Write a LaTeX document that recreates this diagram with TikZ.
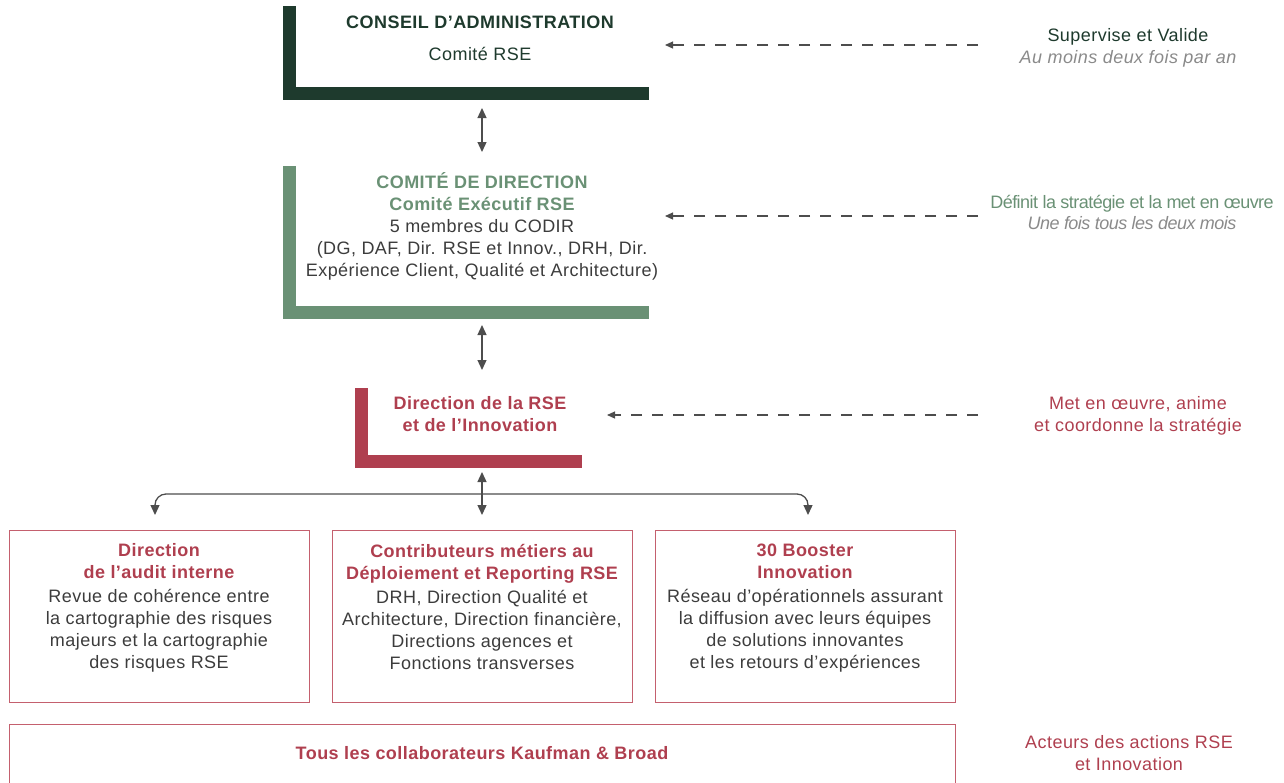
\documentclass[tikz,border=0pt]{standalone}
\usepackage{fontspec}
\setmainfont{Liberation Sans}[LetterSpace=2.5]
\usetikzlibrary{arrows.meta}
\definecolor{cadark}{HTML}{1E3A2D}
\definecolor{cogreen}{HTML}{6A9175}
\definecolor{rsered}{HTML}{AF3F4F}
\definecolor{boxred}{HTML}{C4606E}
\definecolor{txtgray}{HTML}{3C3C3C}
\definecolor{itgray}{HTML}{8A8A8A}
\definecolor{arrgray}{HTML}{4D4D4D}
\newcommand\hdr[1]{\textcolor{rsered}{\bfseries #1}}
\newcommand\tightsp{\addfontfeatures{LetterSpace=-3}}
\begin{document}
\begin{tikzpicture}[x=1pt,y=-1pt,
  txt/.style={font=\fontsize{18}{22}\selectfont, align=center, inner sep=0pt, text=txtgray},
  frame/.style={inner sep=0pt, anchor=north west, minimum width=#1},
  rbox/.style={draw=boxred, line width=1.3pt, inner sep=0pt, anchor=north west},
  conn/.style={draw=arrgray, line width=1.3pt, {Triangle[width=9pt,length=10pt]}-{Triangle[width=9pt,length=10pt]}},
  tree/.style={draw=arrgray, line width=1.3pt, rounded corners=11pt, -{Triangle[width=9pt,length=10pt]}},
  dasharr/.style={draw=arrgray, line width=1.1pt, dash pattern=on 11pt off 10pt, -{Triangle[width=7pt,length=8pt]}}
]
\useasboundingbox (0,0) rectangle (1284,782);

% --- Conseil d'administration
\node[frame=366pt, minimum height=94pt] (ca) at (283,6) {};
\fill[cadark] (ca.north west) rectangle ([xshift=13pt]ca.south west);
\fill[cadark] (ca.south west) rectangle ([yshift=13pt]ca.south east);
\node[txt, anchor=north, text=cadark, font=\fontsize{18}{22}\selectfont\bfseries] (caT1) at (480,15.5) {CONSEIL D’ADMINISTRATION};
\node[txt, anchor=base, text=cadark] (caT2) at (480,60.5) {Comité RSE};

% --- Comite de direction
\node[frame=366pt, minimum height=153pt] (cd) at (283,166) {};
\fill[cogreen] (cd.north west) rectangle ([xshift=13pt]cd.south west);
\fill[cogreen] (cd.south west) rectangle ([yshift=13pt]cd.south east);
\node[txt, anchor=north] (cdT) at (482,172) {\textcolor{cogreen}{\bfseries COMITÉ DE DIRECTION}\\
  \textcolor{cogreen}{\bfseries Comité Exécutif RSE}\\
  5 membres du CODIR\\
  (DG, DAF, Dir. RSE et Innov., DRH, Dir.\\
  Expérience Client, Qualité et Architecture)};

% --- Direction RSE
\node[frame=227pt, minimum height=80pt] (dr) at (355,388) {};
\fill[rsered] (dr.north west) rectangle ([xshift=13pt]dr.south west);
\fill[rsered] (dr.south west) rectangle ([yshift=13pt]dr.south east);
\node[txt, anchor=north, text=rsered, font=\fontsize{18}{22}\selectfont\bfseries] (drT) at (480,396.6) {Direction de la RSE\\et de l’Innovation};

% --- three boxes
\node[rbox, minimum width=300pt, minimum height=172pt] (b1) at (9,530) {};
\node[rbox, minimum width=300pt, minimum height=172pt] (b2) at (332,530) {};
\node[rbox, minimum width=300pt, minimum height=172pt] (b3) at (655,530) {};
\node[txt, anchor=north] (b1T) at (159,543.6) {\hdr{Direction}\\\hdr{de l’audit interne}\\[2pt]
  Revue de cohérence entre\\la cartographie des risques\\majeurs et la cartographie\\des risques RSE};
\node[txt, anchor=north] (b2T) at (482,543.6) {\hdr{Contributeurs métiers au}\\\hdr{Déploiement et Reporting RSE}\\[2pt]
  DRH, Direction Qualité et\\Architecture, Direction financière,\\Directions agences et\\Fonctions transverses};
\node[txt, anchor=north] (b3T) at (805,543.6) {\hdr{30 Booster}\\\hdr{Innovation}\\[2pt]
  Réseau d’opérationnels assurant\\la diffusion avec leurs équipes\\de solutions innovantes\\et les retours d’expériences};

% --- bottom box
\node[rbox, minimum width=946pt, minimum height=90pt] (b4) at (9,724) {};
\node[txt, anchor=base, text=rsered, font=\fontsize{18}{22}\selectfont\bfseries] (b4T) at (482,759.4) {Tous les collaborateurs Kaufman \& Broad};

% --- right column
\node[txt, anchor=north] (supT) at (1128,28.6) {\textcolor{cadark}{Supervise et Valide}\\\textcolor{itgray}{\itshape Au moins deux fois par an}};
\node[txt, anchor=north, font=\fontsize{18}{21}\selectfont\tightsp] (defT) at (1132,194.6) {\textcolor{cogreen}{Définit la stratégie et la met en œuvre}\\\textcolor{itgray}{\itshape Une fois tous les deux mois}};
\node[txt, anchor=north, text=rsered] (metT) at (1138,396.6) {Met en œuvre, anime\\et coordonne la stratégie};
\node[txt, anchor=north, text=rsered] (actT) at (1129,735.6) {Acteurs des actions RSE\\et Innovation};

% --- vertical connectors
\coordinate (v1a) at (482,108); \coordinate (v1b) at (482,152);
\coordinate (v2a) at (482,325); \coordinate (v2b) at (482,370);
\coordinate (v3a) at (482,472); \coordinate (v3b) at (482,515);
\draw[conn] (v1a) -- (v1b);
\draw[conn] (v2a) -- (v2b);
\draw[conn] (v3a) -- (v3b);
\coordinate (br) at (482,494);
\coordinate (t1) at (155,515); \coordinate (t3) at (808,515);
\draw[tree] (br) -| (t1);
\draw[tree] (br) -| (t3);

% --- dashed arrows
\coordinate (d1s) at (978,45); \coordinate (d1e) at (665,45);
\coordinate (d2s) at (978,216); \coordinate (d2e) at (665,216);
\coordinate (d3s) at (978,415); \coordinate (d3e) at (607,415);
\draw[dasharr] (d1s) -- (d1e);
\draw[dasharr] (d2s) -- (d2e);
\draw[dasharr] (d3s) -- (d3e);
\end{tikzpicture}
\end{document}
